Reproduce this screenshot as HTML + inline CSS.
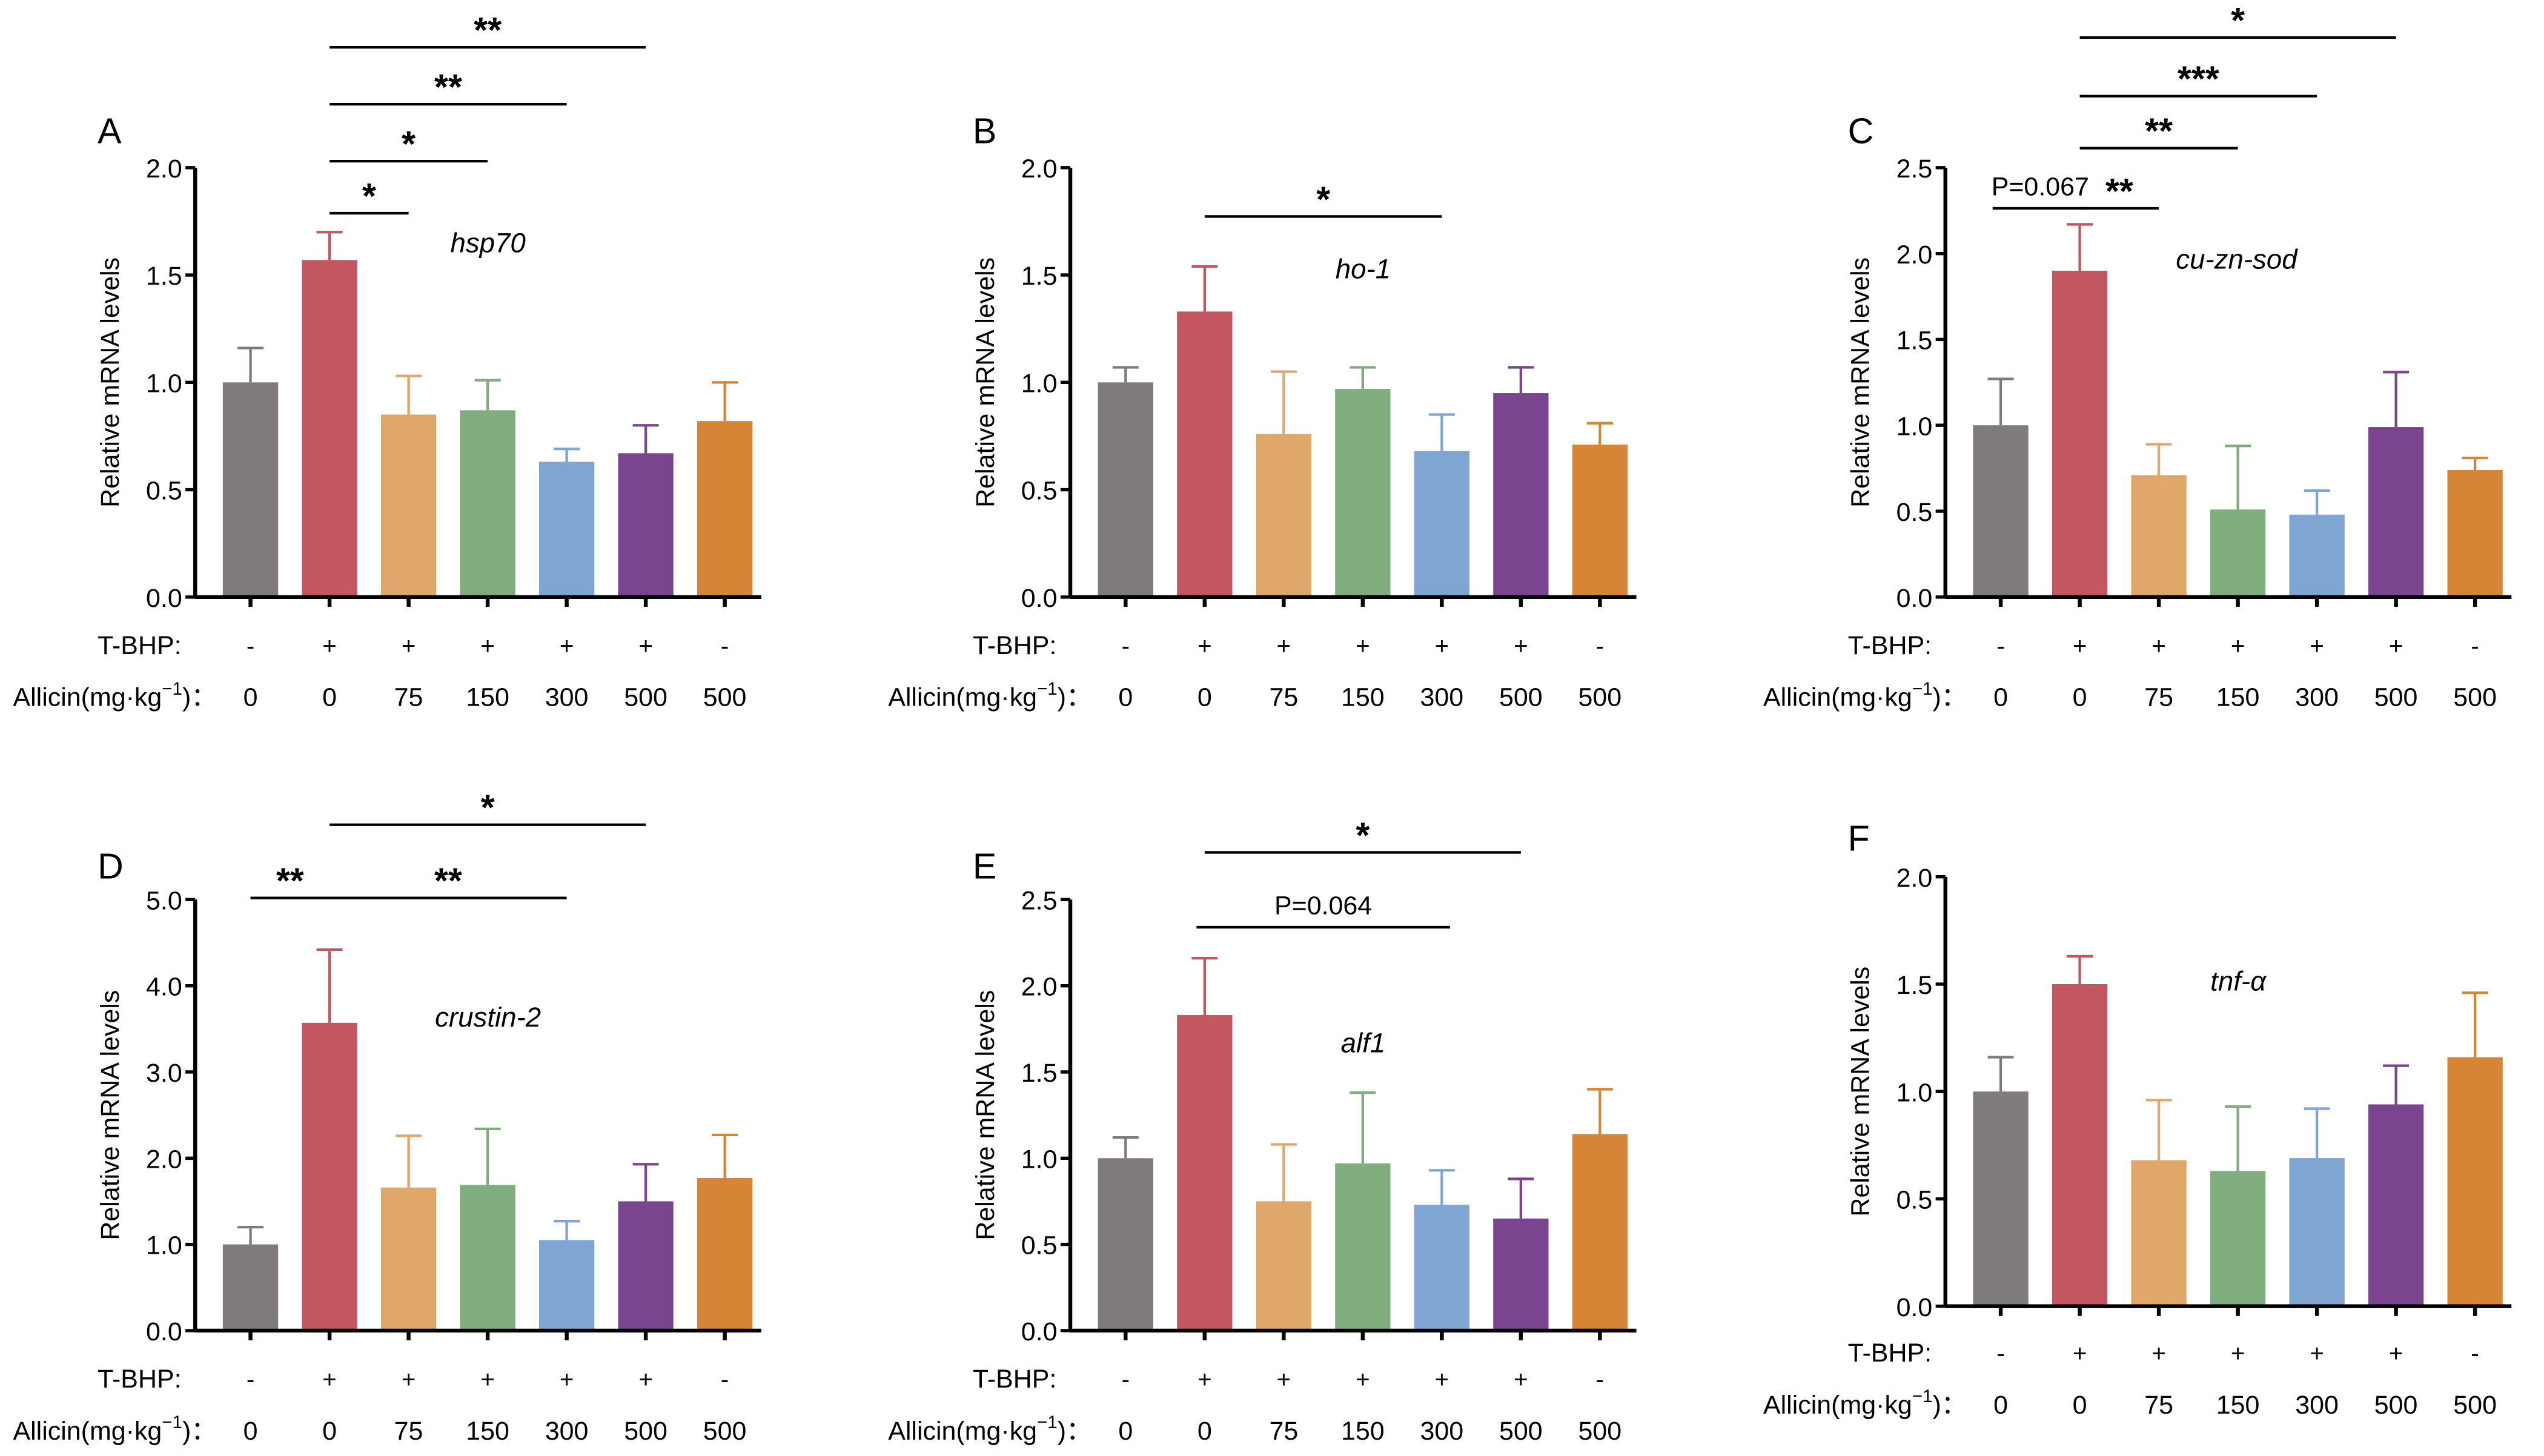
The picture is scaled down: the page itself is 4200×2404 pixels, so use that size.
<!DOCTYPE html>
<html><head><meta charset="utf-8"><style>
html,body{margin:0;padding:0;background:#fff;}
svg{display:block;font-family:"Liberation Sans Narrow","Liberation Sans",sans-serif;}
</style></head><body>
<svg id="fig" width="4200" height="2404" viewBox="0 0 1564 895" xmlns="http://www.w3.org/2000/svg"></svg>
<script>
const colors = ["#7f7a7b","#c2575f","#dfa86a","#80ad7d","#7fa6d3","#7a448e","#d68536"];
const tbhp = ["-","+","+","+","+","+","-"];
const allicin = ["0","0","75","150","300","500","500"];
const meansA = [1.0,1.57,0.85,0.87,0.63,0.67,0.82];
const errA = [0.16,0.13,0.18,0.14,0.06,0.13,0.18];
const meansB = [1.0,1.33,0.76,0.97,0.68,0.95,0.71];
const errB = [0.07,0.21,0.29,0.10,0.17,0.12,0.10];
const meansC = [1.0,1.9,0.71,0.51,0.48,0.99,0.74];
const errC = [0.27,0.27,0.18,0.37,0.14,0.32,0.07];
const meansD = [1.0,3.57,1.66,1.69,1.05,1.5,1.77];
const errD = [0.2,0.85,0.6,0.65,0.22,0.43,0.5];
const meansE = [1.0,1.83,0.75,0.97,0.73,0.65,1.14];
const errE = [0.12,0.33,0.33,0.41,0.2,0.23,0.26];
const meansF = [1.0,1.5,0.68,0.63,0.69,0.94,1.16];
const errF = [0.16,0.13,0.28,0.3,0.23,0.18,0.3];
const ticksA = ["0.0","0.5","1.0","1.5","2.0"];
const ticksC = ["0.0","0.5","1.0","1.5","2.0","2.5"];
const ticksD = ["0.0","1.0","2.0","3.0","4.0","5.0"];

const NS="http://www.w3.org/2000/svg";
const svg=document.getElementById('fig');
function mk(tag,attrs,parent,text){const e=document.createElementNS(NS,tag);for(const k in attrs)e.setAttribute(k,attrs[k]);if(text!==undefined)e.textContent=text;(parent||svg).appendChild(e);return e;}

const panels=[
 {id:"a",letter:"A",gene:"hsp70",x0:120,y0:367,yTop:103,ticks:ticksA,max:2,means:meansA,err:errA,ly:88,gx:300,gy:155,rowY:397,
  sig:[[1,2,131,"*"],[1,3,99,"*"],[1,4,64,"**"],[1,5,29,"**"]]},
 {id:"b",letter:"B",gene:"ho-1",x0:658,y0:367,yTop:103,ticks:ticksA,max:2,means:meansB,err:errB,ly:88,gx:838,gy:171,rowY:397,
  sig:[[1,4,133,"*"]]},
 {id:"c",letter:"C",gene:"cu-zn-sod",x0:1196,y0:367,yTop:103,ticks:ticksC,max:2.5,means:meansC,err:errC,ly:88,gx:1375,gy:165,rowY:397,
  sig:[[0,1,128,"P=0.067"],[1,2,128,"**"],[1,3,91,"**"],[1,4,59,"***"],[1,5,23,"*"]]},
 {id:"d",letter:"D",gene:"crustin-2",x0:120,y0:818,yTop:553,ticks:ticksD,max:5,means:meansD,err:errD,ly:540,gx:300,gy:631,rowY:848,
  sig:[[0,1,552,"**"],[1,4,552,"**"],[1,5,507,"*"]]},
 {id:"e",letter:"E",gene:"alf1",x0:658,y0:818,yTop:553,ticks:ticksC,max:2.5,means:meansE,err:errE,ly:540,gx:838,gy:647,rowY:848,
  sig:[[1,4,570,"P=0.064"],[1,5,524,"*"]]},
 {id:"f",letter:"F",gene:"tnf-α",x0:1196,y0:803,yTop:539,ticks:ticksA,max:2,means:meansF,err:errF,ly:523,gx:1376,gy:609,rowY:832,
  sig:[]}
];

panels.forEach(p=>{
 const g=mk('g',{});
 
 
 const yS=v=>p.y0-(v/p.max)*(p.y0-p.yTop);
 const xS=i=>p.x0+34+i*48.6;
 const bw=34;
 p.means.forEach((m,i)=>{
  const cx=xS(i);
  const eb=mk('line',{x1:cx,x2:cx,y1:yS(m),y2:yS(m+p.err[i]),stroke:colors[i],'stroke-width':1.6},g);
  
  
  const cap=mk('line',{x1:cx-8,x2:cx+8,y1:yS(m+p.err[i]),y2:yS(m+p.err[i]),stroke:colors[i],'stroke-width':1.6},g);
  
  
  const r=mk('rect',{x:cx-bw/2,y:yS(m),width:bw,height:p.y0-yS(m),fill:colors[i]},g);
  
  
  const t=mk('line',{x1:cx,x2:cx,y1:p.y0,y2:p.y0+6,stroke:'#000','stroke-width':2.4},g);
  
  
  const tb=mk('text',{x:cx,y:p.rowY+5,'text-anchor':'middle','font-size':15},g,tbhp[i]);
  
  
  const al=mk('text',{x:cx,y:p.rowY+37,'text-anchor':'middle','font-size':16},g,allicin[i]);
  
  
 });
 const ya=mk('line',{x1:p.x0,x2:p.x0,y1:p.yTop,y2:p.y0+1,stroke:'#000','stroke-width':2.4},g);
 
 
 const xa=mk('line',{x1:p.x0,x2:p.x0+348,y1:p.y0,y2:p.y0,stroke:'#000','stroke-width':2.4},g);
 
 
 p.ticks.forEach(t=>{
  const y=yS(parseFloat(t));
  const tl=mk('line',{x1:p.x0-6,x2:p.x0,y1:y,y2:y,stroke:'#000','stroke-width':2},g);
  
  
  const tt=mk('text',{x:p.x0-8,y:y+6,'text-anchor':'end','font-size':16},g,t);
  
  
 });
 const yt=mk('text',{x:0,y:0,transform:`translate(${p.x0-47},${(p.y0+p.yTop)/2}) rotate(-90)`,'text-anchor':'middle','font-size':16,'font-family':'Liberation Sans, sans-serif'},g,'Relative mRNA levels');
 
 
 const lt=mk('text',{x:p.x0-60,y:p.ly,'font-size':22,'font-family':'Liberation Sans, sans-serif'},g,p.letter);
 
 
 const gn=mk('text',{x:p.gx,y:p.gy,'text-anchor':'middle','font-size':17,'font-style':'italic'},g,p.gene);
 
 
 const rt=mk('text',{x:p.x0-60,y:p.rowY+5,'font-size':16},g,'T-BHP:');
 
 
 const ra=mk('text',{x:p.x0-112,y:p.rowY+37,'font-size':16},g);
 
 
 ra.innerHTML='Allicin(mg·kg<tspan dy="-7" font-size="11">−1</tspan><tspan dy="7">)：</tspan>';
 p.sig.forEach(s=>{
  let x1=xS(s[0]),x2=xS(s[1]);
  if(s[3].startsWith('P')){x1-=5;x2+=5;}
  const l=mk('line',{x1:x1,x2:x2,y1:s[2],y2:s[2],stroke:'#000','stroke-width':1.6},g);
  
  
  const isP=s[3].startsWith('P');
  const st=mk('text',{x:(x1+x2)/2,y:isP?s[2]-8:s[2]-3,'text-anchor':'middle','font-size':isP?16:22,'font-weight':isP?'normal':'bold','font-family':'Liberation Sans, sans-serif'},g,s[3]);
  
  
 });
});
</script>
</body></html>
